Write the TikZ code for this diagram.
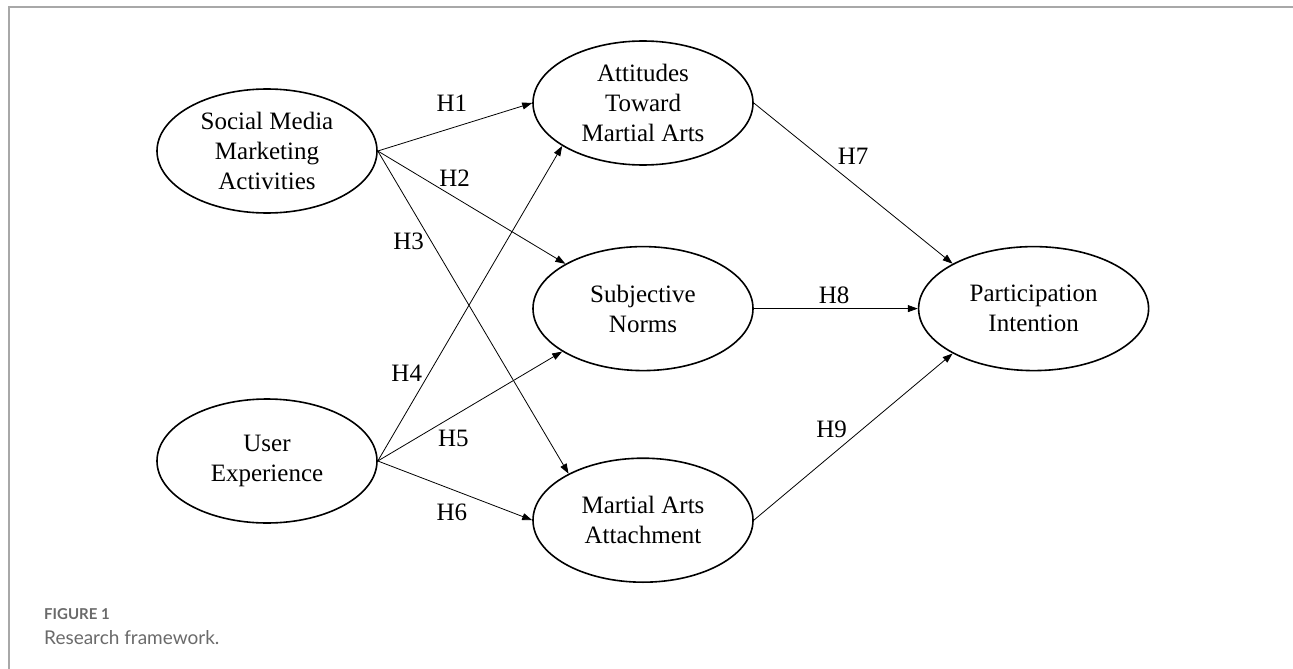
\documentclass[tikz,border=0pt]{standalone}
\usepackage{fontspec}
\setmainfont{Liberation Serif}
\newfontfamily\captionfont{Lato}
\usepackage{xcolor}
\usepackage{tikz}
\usetikzlibrary{arrows.meta,positioning,shapes.geometric}

\definecolor{framegray}{HTML}{A8A8A8}
\definecolor{captiongray}{HTML}{6A6A6A}

\begin{document}
\begin{tikzpicture}[
    x=1pt, y=-1pt,
    construct/.style={ellipse, draw=black, line width=1.6pt, minimum width=220pt, minimum height=124pt, inner sep=0pt, align=center, font=\fontsize{25}{30}\selectfont},
    hyp/.style={inner sep=0pt, font=\fontsize{25}{30}\selectfont},
    arrow/.style={-{Triangle[length=10pt,width=7pt]}, line width=0.8pt, draw=black}
]
\useasboundingbox (0,0) rectangle (1293,669);

% Frame
\draw[framegray, line width=1.5pt] (9,669) -- (9,7) -- (1293,7);

% Nodes
\node[construct] (smma) at (267,151) {Social Media\\Marketing\\Activities};
\node[construct] (ux) at (267,461) {User\\Experience};
\node[construct] (att) at (643,103) {Attitudes\\Toward\\Martial Arts};
\node[construct, below=80pt of att] (sn) {Subjective\\Norms};
\node[construct, below=86pt of sn] (maa) {Martial Arts\\Attachment};
\node[construct, minimum width=230pt, right=164pt of sn] (pi) {Participation\\Intention};

% Edges
\draw[arrow] (smma.east) -- node[hyp, pos=0.48, above=16pt] {H1} (att.west);
\draw[arrow] (smma.east) -- node[hyp, pos=0.41, above=10pt] {H2} (sn.150);
\draw[arrow] (smma.east) -- node[hyp, pos=0.28, left=7pt] {H3} (maa.148);
\draw[arrow] (ux.east) -- node[hyp, pos=0.28, left=7pt] {H4} (att.208);
\draw[arrow] (ux.east) -- node[hyp, pos=0.41, below=14pt] {H5} (sn.208);
\draw[arrow] (ux.east) -- node[hyp, pos=0.48, below=14pt] {H6} (maa.west);
\draw[arrow] (att.east) -- node[hyp, pos=0.5, above=18pt] {H7} (pi.151);
\draw[arrow] (sn.east) -- node[hyp, pos=0.49, above=4pt] {H8} (pi.west);
\draw[arrow] (maa.east) -- node[hyp, pos=0.47, above left=4pt and 0pt] {H9} (pi.209);

% Caption
\node[anchor=base west, inner sep=0pt, text=captiongray, font=\captionfont\bfseries\fontsize{15}{18}\selectfont] (fig) at (44,619) {FIGURE 1};
\node[anchor=base west, inner sep=0pt, text=captiongray, font=\captionfont\fontsize{19}{22}\selectfont] (cap) at (44,644) {Research framework.};

\end{tikzpicture}
\end{document}
